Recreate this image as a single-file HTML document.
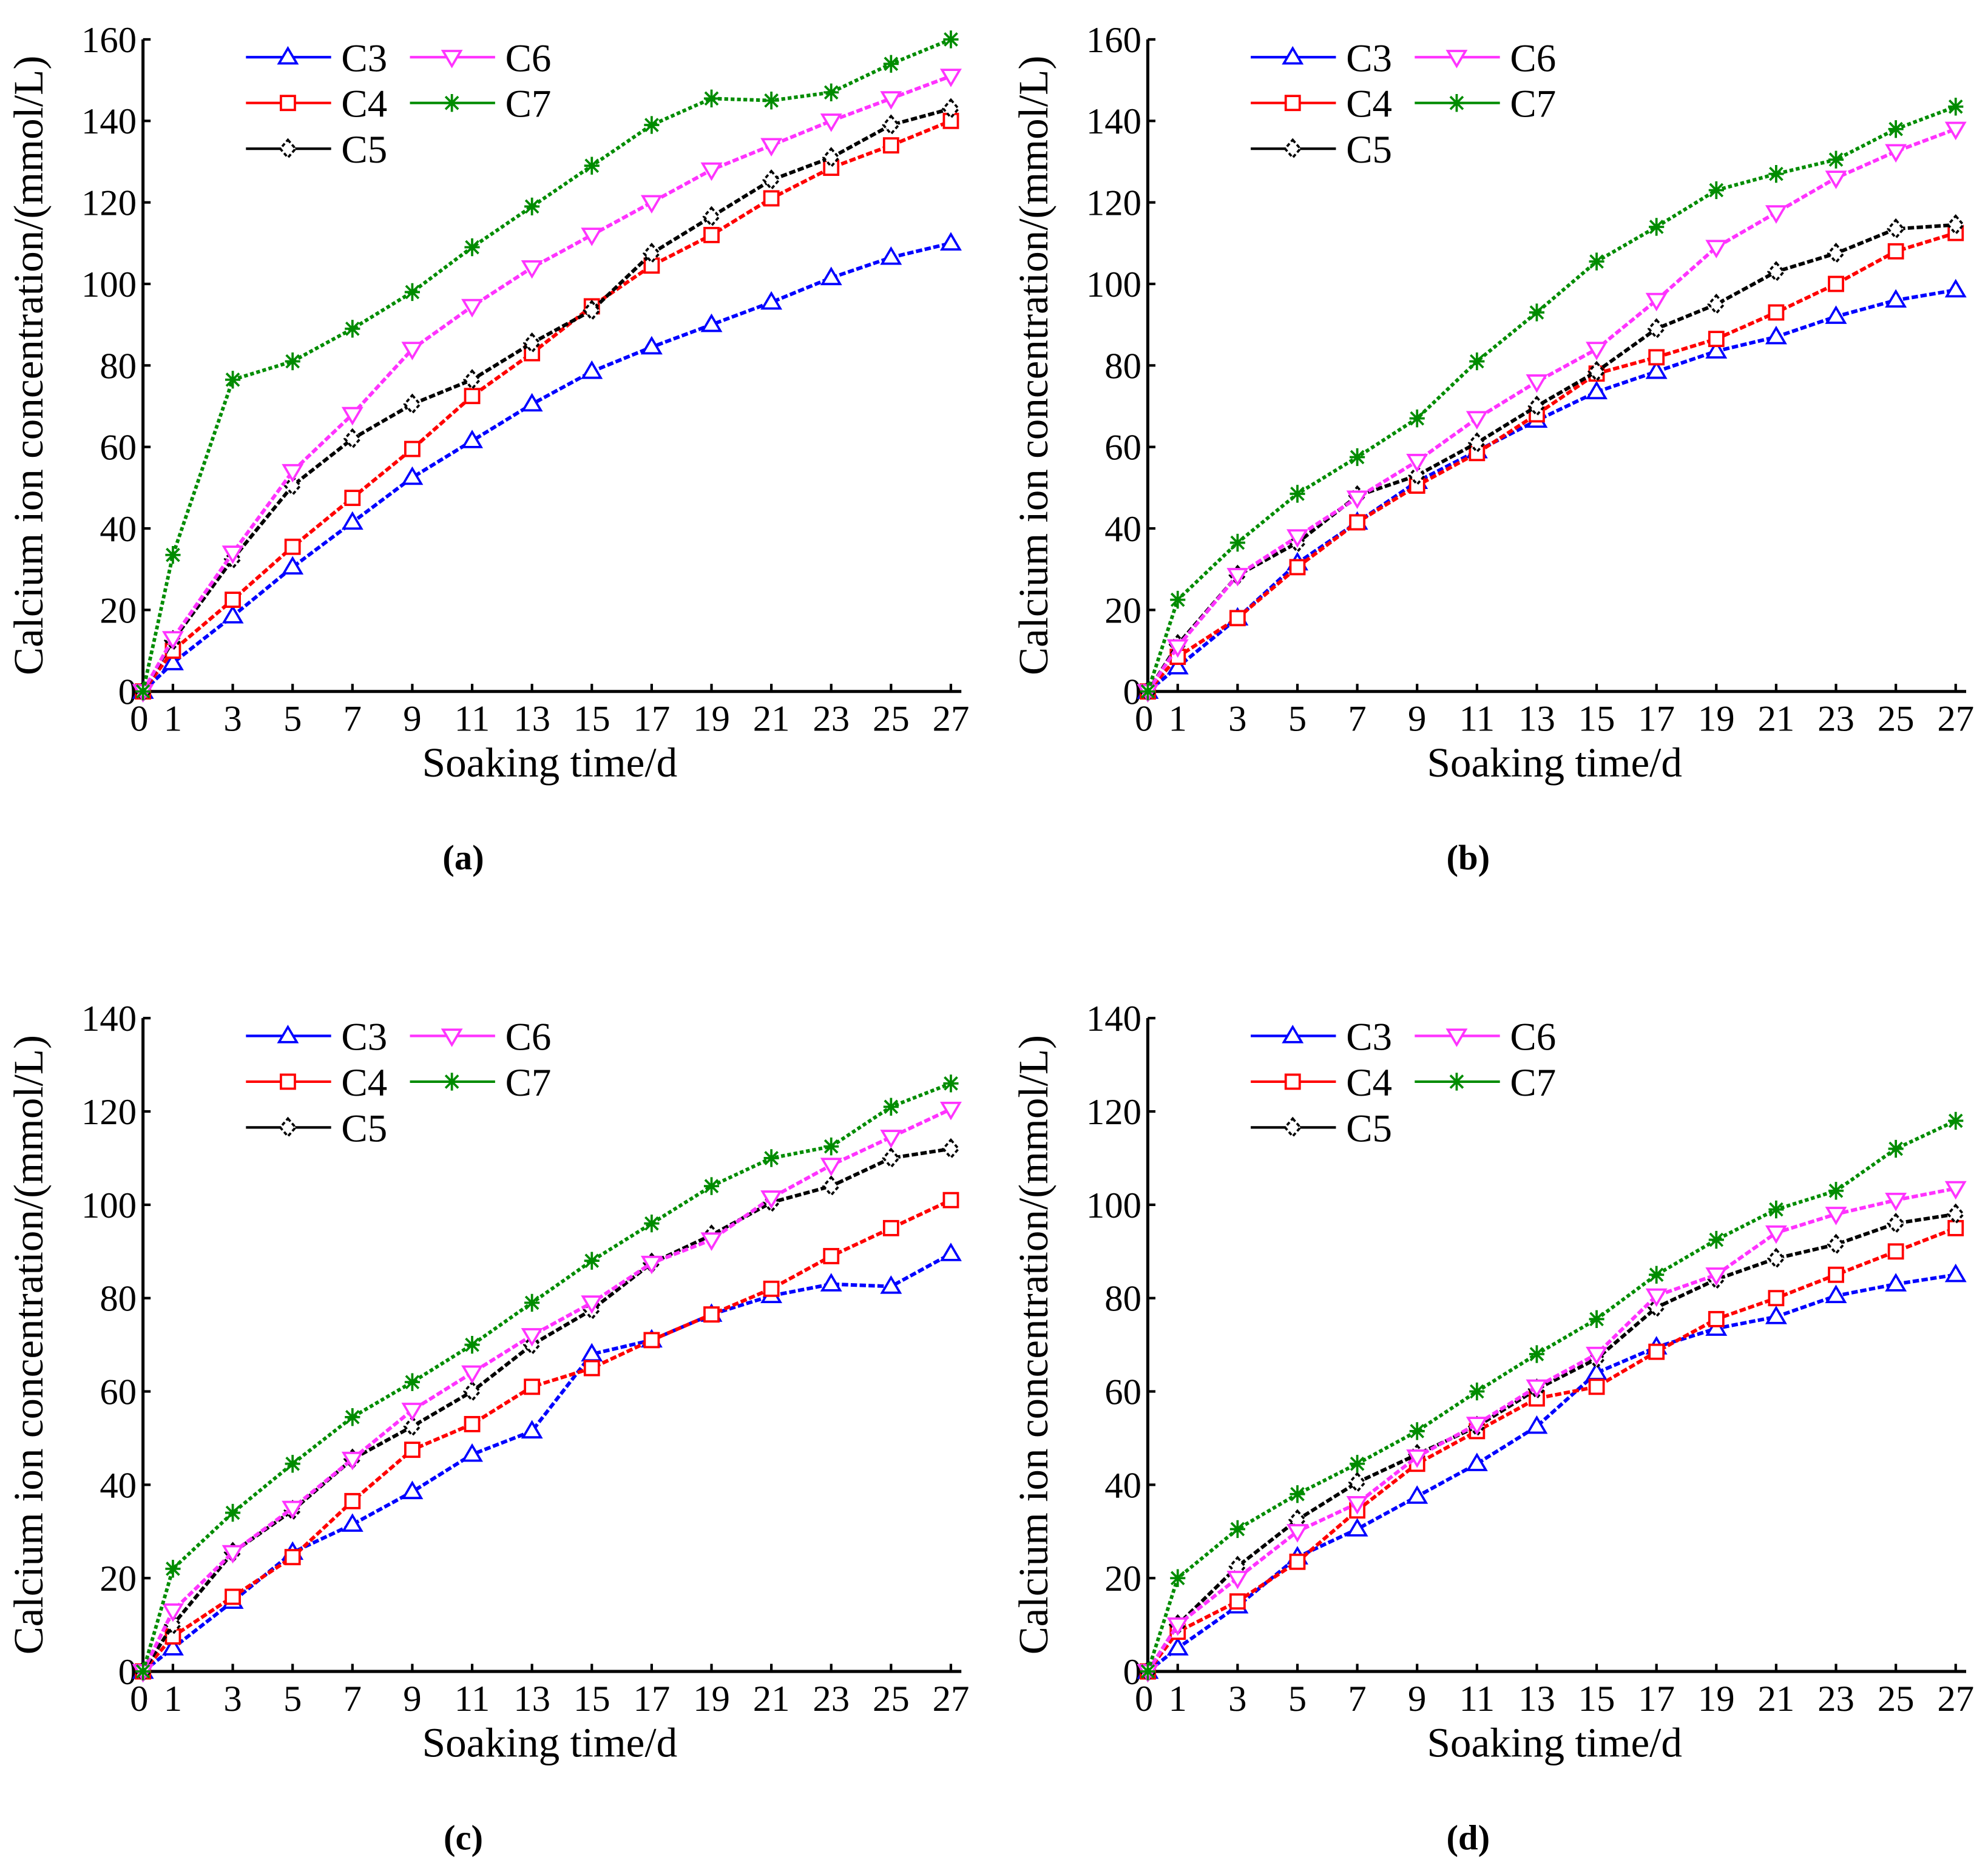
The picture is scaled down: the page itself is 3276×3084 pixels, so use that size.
<!DOCTYPE html>
<html><head><meta charset="utf-8"><style>
html,body{margin:0;padding:0;background:#fff;}
svg{display:block;}
text{font-family:"Liberation Serif","Times New Roman",serif;fill:#000;}
</style></head>
<body>
<svg id="fig" width="3276" height="3084" viewBox="0 0 1564 1472" preserveAspectRatio="none" xmlns="http://www.w3.org/2000/svg"></svg>
<script>
const days = [0,1,3,5,7,9,11,13,15,17,19,21,23,25,27];
const xTicks = [0,1,3,5,7,9,11,13,15,17,19,21,23,25,27];
const seriesNames = ["C3","C4","C5","C6","C7"];
const yTicksTop = [0,20,40,60,80,100,120,140,160];
const yTicksBottom = [0,20,40,60,80,100,120,140];
const aC3 = [0,7,18.5,30.5,41.5,52.5,61.5,70.5,78.5,84.5,90,95.5,101.5,106.5,110];
const aC4 = [0,10,22.5,35.5,47.5,59.5,72.5,83,94.5,104.5,112,121,128.5,134,140];
const aC5 = [0,12.5,32.5,50.5,62,70.5,76.5,85.5,93.5,107.5,116.5,125.5,131,139,143];
const aC6 = [0,13,34,54,68,84,94.5,104,112,120,128,134,140,145.5,151];
const aC7 = [0,33.5,76.5,81,89,98,109,119,129,139,145.5,145,147,154,160];
const bC3 = [0,6,18,31.5,41.5,51.5,59,66.5,73.5,78.5,83.5,87,92,96,98.5];
const bC4 = [0,8.5,18,30.5,41.5,50.5,58.5,68,78,82,86.5,93,100,108,112.5];
const bC5 = [0,11.5,28.5,36.5,48,53,61,70,78.5,89,95,103,107.5,113.5,114.5];
const bC6 = [0,11,28.5,38,47.5,56.5,67,76,84,96,109,117.5,126,132.5,138];
const bC7 = [0,22.5,36.5,48.5,57.5,67,81,93,105.5,114,123,127,130.5,138,143.5];
const cC3 = [0,5,15,25.5,31.5,38.5,46.5,51.5,68,71,76.5,80.5,83,82.5,89.5];
const cC4 = [0,7.5,16,24.5,36.5,47.5,53,61,65,71,76.5,82,89,95,101];
const cC5 = [0,10,25.5,34.5,45.5,52.5,60,70,77.5,87.5,93.5,100.5,104,110,112];
const cC6 = [0,13,25.5,35,45.5,56,64,72,79,87.5,92.5,101.5,108.5,114.5,120.5];
const cC7 = [0,22,34,44.5,54.5,62,70,79,88,96,104,110,112.5,121,126];
const dC3 = [0,5,14,24.5,30.5,37.5,44.5,52.5,64,69.5,73.5,76,80.5,83,85];
const dC4 = [0,8.5,15,23.5,34.5,44.5,51.5,58.5,61,68.5,75.5,80,85,90,95];
const dC5 = [0,10,22.5,32.5,40.5,46.5,52.5,60.5,67,78,84,88.5,91.5,96,98];
const dC6 = [0,10,20,30,36,46,53,61,68,80.5,85,94,98,101,103.5];
const dC7 = [0,20,30.5,38,44.5,51.5,60,68,75.5,85,92.5,99,103,112,118];

const NS="http://www.w3.org/2000/svg";
const svg=document.getElementById('fig');
const colors={C3:"#0000ff",C4:"#ff0000",C5:"#000000",C6:"#ff33ff",C7:"#008c00"};
const dashes={C3:"5,2",C4:"5,2",C5:"5,2",C6:"5,2",C7:"3,2"};
function mk(tag,attrs,parent){const e=document.createElementNS(NS,tag);for(const k in attrs)e.setAttribute(k,attrs[k]);(parent||svg).appendChild(e);return e;}

function marker(g,name,x,y){
  const c=colors[name];const s=7;let e;
  if(name==="C3"){e=mk('polygon',{points:`${x},${y-s} ${x-s},${y+s*0.7} ${x+s},${y+s*0.7}`,fill:'#fff',stroke:c,'stroke-width':1.8},g);}
  else if(name==="C4"){e=mk('rect',{x:x-5.5,y:y-5.5,width:11,height:11,fill:'#fff',stroke:c,'stroke-width':1.8},g);}
  else if(name==="C5"){e=mk('polygon',{points:`${x},${y-7} ${x+6},${y} ${x},${y+7} ${x-6},${y}`,fill:'#fff',stroke:c,'stroke-width':1.8,'stroke-dasharray':'3,2'},g);}
  else if(name==="C6"){e=mk('polygon',{points:`${x},${y+s} ${x-s},${y-s*0.7} ${x+s},${y-s*0.7}`,fill:'#fff',stroke:c,'stroke-width':1.8},g);}
  else {e=mk('path',{d:`M${x-6},${y}H${x+6}M${x},${y-7}V${y+7}M${x-5},${y-5}L${x+5},${y+5}M${x-5},${y+5}L${x+5},${y-5}`,stroke:c,'stroke-width':1.8},g);}
  
  
}

function panel(id,label,x0,y0,yMax,yTicks,data){
  const dx=23.54, top=y0-(y0<700?513:514);
  const xs=d=>x0+d*dx;
  const ys=v=>y0-(v/yMax)*(y0-top);
  const g=mk('g',{});
  
  
  const ax=mk('path',{d:`M${x0},${top}V${y0}H${xs(27.35)}`,stroke:'#000','stroke-width':2.4,fill:'none'},g);
  
  
  yTicks.forEach(v=>{
    const t=mk('line',{x1:x0,x2:x0+6,y1:ys(v),y2:ys(v),stroke:'#000','stroke-width':2},g);
    
    
    const l=mk('text',{x:x0-5,y:ys(v)+10,'text-anchor':'end','font-size':29},g);
    l.textContent=v;
    
    
  });
  xTicks.forEach(d=>{
    const t=mk('line',{x1:xs(d),x2:xs(d),y1:y0,y2:y0-6,stroke:'#000','stroke-width':2},g);
    
    
    const l=mk('text',{x:xs(d)+(d===0?-3:0),y:y0+31,'text-anchor':'middle','font-size':29},g);
    l.textContent=d;
    
    
  });
  const xt=mk('text',{x:x0+320,y:y0+67,'text-anchor':'middle','font-size':33},g);
  xt.textContent="Soaking time/d";
  
  
  const yc=(top+y0)/2;
  const yt=mk('text',{x:0,y:0,'text-anchor':'middle','font-size':33,transform:`translate(${x0-79},${yc}) rotate(-90)`},g);
  yt.textContent="Calcium ion concentration/(mmol/L)";
  
  
  const pl=mk('text',{x:x0+252,y:y0+140,'text-anchor':'middle','font-size':28,'font-weight':'bold'},g);
  pl.textContent=label;
  
  
  seriesNames.forEach((n,i)=>{
    const vals=data[i];
    const sg=mk('g',{},g);
    
    
    const pts=days.map((d,k)=>xs(d)+','+ys(vals[k])).join(' ');
    const pl2=mk('polyline',{points:pts,fill:'none',stroke:colors[n],'stroke-width':2.8,'stroke-dasharray':dashes[n]},sg);
    
    
    days.forEach((d,k)=>marker(sg,n,xs(d),ys(vals[k])));
  });
  const lg=mk('g',{},g);
  
  
  const pos=[[0,0],[0,1],[0,2],[1,0],[1,1]];
  seriesNames.forEach((n,i)=>{
    const lx=x0+81+pos[i][0]*129, ly=top+14+pos[i][1]*36;
    const eg=mk('g',{},lg);
    
    
    mk('line',{x1:lx,x2:lx+67,y1:ly,y2:ly,stroke:colors[n],'stroke-width':2},eg);
    marker(eg,n,lx+33,ly);
    const t=mk('text',{x:lx+75,y:ly+11,'font-size':31},eg);
    t.textContent=n;
  });
}
panel('a','(a)',112.5,544,160,yTicksTop,[aC3,aC4,aC5,aC6,aC7]);
panel('b','(b)',903,544,160,yTicksTop,[bC3,bC4,bC5,bC6,bC7]);
panel('c','(c)',112.5,1315,140,yTicksBottom,[cC3,cC4,cC5,cC6,cC7]);
panel('d','(d)',903,1315,140,yTicksBottom,[dC3,dC4,dC5,dC6,dC7]);
</script>
</body></html>
